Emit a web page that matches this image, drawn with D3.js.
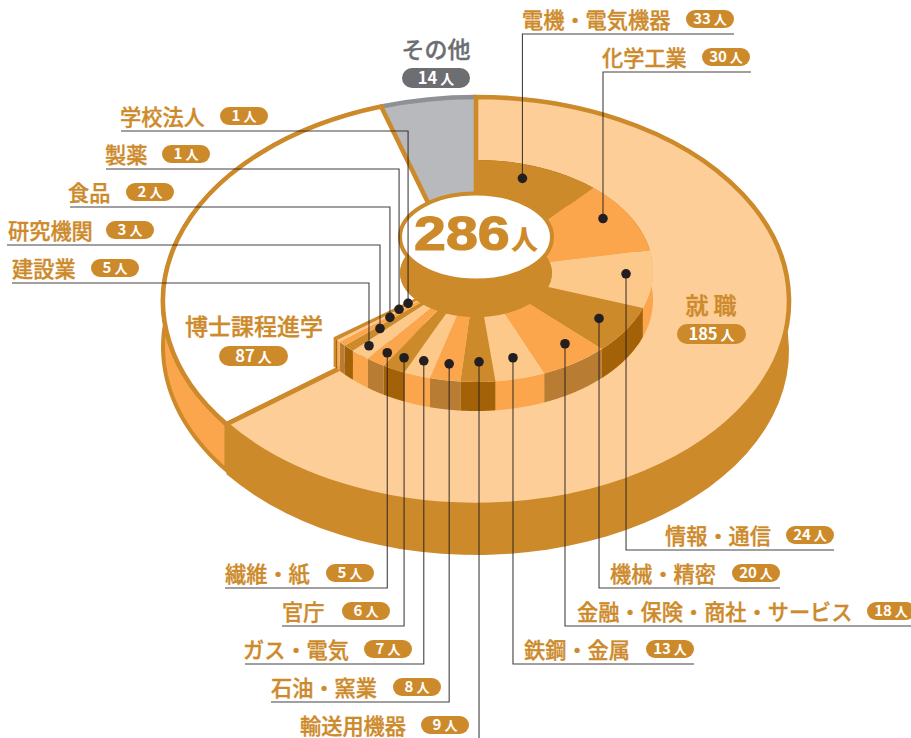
<!DOCTYPE html>
<html lang="ja">
<head>
<meta charset="UTF-8">
<title>進路 286人</title>
<script src="https://d3js.org/d3.v7.min.js"></script>
<style>
    html, body { margin: 0; padding: 0; background: #fff; overflow: hidden; }
    svg { display: block; }
    text { font-family: "Noto Sans CJK JP", "Noto Sans", sans-serif; }
</style>
</head>
<body>
<script>

// totals
const totalCount = 286;

// outer disc, clockwise from 12 o'clock
const outerNames = ['就 職', '博士課程進学', 'その他'];
const outerCounts = [185, 87, 14];

// inner disc: breakdown of 就職
const innerNames = ['電機・電気機器', '化学工業', '情報・通信', '機械・精密', '金融・保険・商社・サービス', '鉄鋼・金属',
    '輸送用機器', '石油・窯業', 'ガス・電気', '官庁', '繊維・紙', '建設業', '研究機関', '食品', '製薬', '学校法人'];
const innerCounts = [33, 30, 24, 20, 18, 13, 9, 8, 7, 6, 5, 5, 3, 2, 1, 1];

// where each dot sits: across its slice (0-1) and out from the disc centre (0-1)
const dotAcross = [.42, .40, .41, .48, .345, .47, .45, .52, .56, .47, .44, .66, .6, .6, .95, .92];
const dotReach = [.875, .859, .848, .816, .826, .809, .818, .85, .861, .881, .891, .905, .75, .641, .555, .482];

// callout layout: rule height, far end of the rule, label left, pill left
const ruleY = [34, 72, 550, 588, 626, 664, 740, 702, 664, 626, 588, 283, 245, 207, 169, 131];
const ruleEnd = [734, 751, 834, 780, 911, 694, 301, 271, 245, 282, 225, 12, 7, 70, 106, 121];
const labelX = [522, 602, 665, 610, 577, 524, 300, 271, 243, 282, 225, 12, 8, 68, 105, 120];
const pillX = [686, 702, 786, 732, 867, 646, 421, 393, 364, 342, 326, 91, 106, 126, 162, 220];

const colors = { brown: '#CD8A2B', orange: '#FBA64C', light: '#FDC98A', pale: '#FDCE98', dark: '#A36207', mid: '#B87C33',
    gray: '#B8B9BD', grayRim: '#8F9095', grayText: '#6D6E71', ink: '#231F20' };

// the face colour cycles, each has its own wall colour
const innerFace = [colors.brown, colors.orange, colors.light];
const innerWall = [colors.dark, colors.mid, colors.orange];

const width = 911, height = 738;
const svg = d3.select('body').append('svg').attr('width', width).attr('height', height);

// a disc is a unit circle pushed through two linear scales
const disc = (cx, cy, rx, ry) => ({
    cx, cy, rx, ry,
    x: d3.scaleLinear().domain([-1, 1]).range([cx - rx, cx + rx]),
    y: d3.scaleLinear().domain([-1, 1]).range([cy - ry, cy + ry])
});
const outerDisc = disc(476, 301, 313, 204);
const innerDisc = disc(476, 271, 177, 111);
const capTop = disc(476, 237, 76, 43.5);
const capBottom = disc(476, 273, 76, 44);

const pie = d3.pie().sort(null).value(d => d);
const outerPie = pie(outerCounts);
const innerScale = d3.scaleLinear().domain([0, d3.sum(outerCounts)]).range([0, 2 * Math.PI]);
const innerPie = pie.endAngle(innerScale(outerCounts[0]))(innerCounts);

const unitArc = d3.arc().innerRadius(0).outerRadius(1);
const fit = d => `translate(${d.cx},${d.cy}) scale(${d.rx},${d.ry})`;

function drawFace(g, d, a0, a1, fill, stroke, strokeWidth) {
    return g.append('path')
        .attr('d', unitArc({ startAngle: a0, endAngle: a1 }))
        .attr('transform', fit(d))
        .attr('fill', fill)
        .attr('stroke', stroke || 'none')
        .attr('stroke-width', strokeWidth || 0)
        .attr('stroke-linejoin', 'miter')
        .attr('vector-effect', 'non-scaling-stroke');
}

// side wall of a slice: rim arc, then the same arc shifted down
function wallPath(d, a0, a1, depth) {
    const steps = d3.range(0, 61).map(i => a0 + (a1 - a0) * i / 60);
    const rim = steps.map(a => [d.x(Math.sin(a)), d.y(-Math.cos(a))]);
    const low = rim.map(p => [p[0], p[1] + depth]).reverse();
    return d3.line()(rim.concat(low)) + 'Z';
}

const chart = svg.append('g');

// outer disc
const outerDepth = 50;
chart.append('path').attr('d', wallPath(outerDisc, outerPie[1].startAngle, outerPie[1].endAngle, outerDepth - 4))
    .attr('fill', colors.orange).attr('stroke', colors.brown).attr('stroke-width', 4);
chart.append('path').attr('d', wallPath(outerDisc, outerPie[0].startAngle, outerPie[0].endAngle, outerDepth))
    .attr('fill', colors.brown);
drawFace(chart, outerDisc, outerPie[2].startAngle, outerPie[2].endAngle, colors.gray);
chart.append('path')
    .attr('d', d3.arc().innerRadius(1).outerRadius(1)({ startAngle: outerPie[2].startAngle, endAngle: outerPie[2].endAngle }))
    .attr('transform', fit(outerDisc))
    .attr('fill', 'none').attr('stroke', colors.grayRim).attr('stroke-width', 4.6)
    .attr('vector-effect', 'non-scaling-stroke');
drawFace(chart, outerDisc, outerPie[1].startAngle, outerPie[1].endAngle, '#fff', colors.brown, 4.6);
drawFace(chart, outerDisc, outerPie[0].startAngle, outerPie[0].endAngle, colors.pale, colors.brown, 4.6);

// inner disc
const innerDepth = 29;
innerPie.forEach((s, i) => {
    chart.append('path').attr('d', wallPath(innerDisc, s.startAngle, s.endAngle, innerDepth))
        .attr('fill', innerWall[i % 3]);
});
innerPie.forEach((s, i) => {
    drawFace(chart, innerDisc, s.startAngle, s.endAngle, innerFace[i % 3]);
});

// brown edge on the cut side of the inner disc
const cut = outerPie[0].endAngle;
const cutX = innerDisc.x(Math.sin(cut)), cutY = innerDisc.y(-Math.cos(cut));
chart.append('path')
    .attr('d', d3.line()([[innerDisc.cx, innerDisc.cy], [cutX, cutY], [cutX, cutY + innerDepth]]))
    .attr('fill', 'none').attr('stroke', colors.brown).attr('stroke-width', 2.5);

// centre pillar and its white lid
chart.append('path').attr('d', wallPath(capTop, 0, 2 * Math.PI, capBottom.cy - capTop.cy)).attr('fill', colors.brown);
drawFace(chart, capBottom, 0, 2 * Math.PI, colors.brown);
drawFace(chart, capTop, 0, 2 * Math.PI, '#fff', colors.brown, 4);

// total
const totalText = chart.append('g');
totalText.append('text')
    .attr('transform', 'translate(414,250) scale(1.17,1)')
    .style('font-family', '"Liberation Sans", sans-serif')
    .attr('font-size', 49).attr('font-weight', 700).attr('fill', colors.brown)
    .attr('stroke', colors.brown).attr('stroke-width', 1.2)
    .text(totalCount);
totalText.append('text')
    .attr('x', 511).attr('y', 250)
    .attr('font-size', 27).attr('font-weight', 900).attr('fill', colors.brown)
    .text('人');

// pill with a count in it
function drawPill(g, x, y, w, h, fill, count, numSize, unitSize) {
    g.append('rect').attr('x', x).attr('y', y).attr('width', w).attr('height', h).attr('rx', h / 2).attr('fill', fill);
    const t = g.append('text')
        .attr('x', x + w / 2).attr('y', y + h / 2 + numSize * .36)
        .attr('text-anchor', 'middle').attr('fill', '#fff').attr('font-weight', 700);
    t.append('tspan').attr('font-size', numSize).text(count);
    t.append('tspan').attr('font-size', unitSize).attr('dx', 3).text('人');
}

// label text, a touch heavier than the installed medium weight
function drawName(g, x, y, size, fill, name, anchor) {
    g.append('text')
        .attr('x', x).attr('y', y).attr('text-anchor', anchor || 'start')
        .attr('font-size', size).attr('font-weight', 500).attr('fill', fill)
        .attr('stroke', fill).attr('stroke-width', .35)
        .text(name);
}

// leaders, dots, labels
const calloutLayer = svg.append('g');
innerPie.forEach((s, i) => {
    const a = s.startAngle + (s.endAngle - s.startAngle) * dotAcross[i];
    const px = innerDisc.x(Math.sin(a) * dotReach[i]);
    const py = innerDisc.y(-Math.cos(a) * dotReach[i]);

    const g = calloutLayer.append('g');
    g.append('path')
        .attr('d', `M${px},${py}V${ruleY[i]}H${ruleEnd[i]}`)
        .attr('fill', 'none').attr('stroke', colors.ink).attr('stroke-width', 1.1).attr('opacity', .85);
    g.append('circle').attr('cx', px).attr('cy', py).attr('r', 4.8).attr('fill', colors.ink);
    drawName(g, labelX[i], ruleY[i] - 6, 21.2, colors.brown, innerNames[i]);
    drawPill(g, pillX[i], ruleY[i] - 24, 48, 18, colors.brown, innerCounts[i], 15, 13);
});

// labels of the outer disc
const bigLabels = svg.append('g');
drawName(bigLabels, 711, 314, 23, colors.brown, outerNames[0], 'middle');
drawPill(bigLabels, 677, 324, 69, 20, colors.brown, outerCounts[0], 16.5, 14);
drawName(bigLabels, 254, 335, 23, colors.brown, outerNames[1], 'middle');
drawPill(bigLabels, 219, 346, 69, 20, colors.brown, outerCounts[1], 16.5, 14);
drawName(bigLabels, 436, 58, 23, colors.grayText, outerNames[2], 'middle');
drawPill(bigLabels, 402, 68, 68, 20, colors.grayText, outerCounts[2], 16.5, 14);

</script>
</body>
</html>
